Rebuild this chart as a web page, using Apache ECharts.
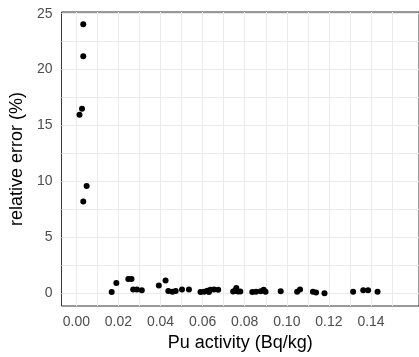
<!DOCTYPE html>
<html>
<head>
<meta charset="utf-8">
<script src="https://cdn.jsdelivr.net/npm/echarts@6/dist/echarts.min.js"></script>
<style>
  html, body { margin: 0; padding: 0; background: #fff; }
  #container { width: 419px; height: 357px; }
</style>
</head>
<body>
<div id="container"></div>
<script>
// Pu activity (Bq/kg) vs relative error (%)
var puActivity = [
    0.0033, 0.0033, 0.0027, 0.0015, 0.0049, 0.0033,
    0.0168, 0.0190, 0.0247, 0.0262, 0.0270, 0.0288, 0.0311,
    0.0392, 0.0424, 0.0437, 0.0457, 0.0472, 0.0502, 0.0535,
    0.0590, 0.0607, 0.0622, 0.0630, 0.0637, 0.0654, 0.0674,
    0.0745, 0.0752, 0.0760, 0.0768, 0.0779,
    0.0836, 0.0854, 0.0876, 0.0890, 0.0899,
    0.0971, 0.1049, 0.1063, 0.1124, 0.1139, 0.1179,
    0.1315, 0.1363, 0.1386, 0.1431
];
var relError = [
    24.05, 21.2, 16.5, 15.95, 9.58, 8.19,
    0.10, 0.90, 1.27, 1.27, 0.33, 0.33, 0.27,
    0.69, 1.13, 0.20, 0.12, 0.20, 0.33, 0.33,
    0.10, 0.12, 0.21, 0.10, 0.30, 0.33, 0.30,
    0.15, 0.20, 0.45, 0.15, 0.15,
    0.10, 0.12, 0.18, 0.30, 0.12,
    0.18, 0.12, 0.33, 0.12, 0.06, 0.00,
    0.12, 0.27, 0.27, 0.12
];
var xMajorTicks = [0, 0.02, 0.04, 0.06, 0.08, 0.10, 0.12, 0.14];
var xMinorTicks = [0.01, 0.03, 0.05, 0.07, 0.09, 0.11, 0.13, 0.15];
var yMajorTicks = [0, 5, 10, 15, 20, 25];
var yMinorTicks = [2.5, 7.5, 12.5, 17.5, 22.5];

var points = [];
for (var i = 0; i < puActivity.length; i++) {
    points.push([puActivity[i], relError[i]]);
}

// grid lines (major + minor) through the axes' own scales
var gridLines = [];
xMajorTicks.concat(xMinorTicks).forEach(function (v) { gridLines.push({xAxis: v}); });
yMajorTicks.concat(yMinorTicks).forEach(function (v) { gridLines.push({yAxis: v}); });

var fontFamily = '"Liberation Sans", Arial, sans-serif';
var gridColor = '#EBEBEB';
var xMin = -0.00706, xMax = 0.1628;
var yMin = -1.15, yMax = 25.15;

var dom = document.getElementById('container');
var myChart = echarts.init(dom, null, {renderer: 'canvas'});

var option = {
    animation: false,
    backgroundColor: '#fff',
    grid: {
        left: 61,
        top: 12,
        right: -20,
        bottom: 51,
        show: true,
        borderColor: '#333',
        borderWidth: 1,
        backgroundColor: 'transparent',
        z: 3
    },
    xAxis: {
        type: 'value',
        min: xMin,
        max: xMax,
        name: 'Pu activity (Bq/kg)',
        nameLocation: 'middle',
        nameGap: 27,
        nameTextStyle: {color: '#000', fontSize: 18, fontFamily: fontFamily},
        axisLine: {show: false},
        axisTick: {show: true, length: 4, customValues: xMajorTicks, lineStyle: {color: '#333'}},
        axisLabel: {
            customValues: xMajorTicks,
            margin: 9,
            color: '#4D4D4D',
            fontSize: 14,
            fontFamily: fontFamily,
            formatter: function (v) { return v.toFixed(2); }
        },
        splitLine: {show: false}
    },
    yAxis: {
        type: 'value',
        min: yMin,
        max: yMax,
        name: 'relative error (%)',
        nameLocation: 'middle',
        nameGap: 28,
        nameTextStyle: {color: '#000', fontSize: 18, fontFamily: fontFamily},
        axisLine: {show: false},
        axisTick: {show: true, length: 4, customValues: yMajorTicks, lineStyle: {color: '#333'}},
        axisLabel: {
            customValues: yMajorTicks,
            margin: 9,
            color: '#4D4D4D',
            fontSize: 14,
            fontFamily: fontFamily
        },
        splitLine: {show: false}
    },
    series: [
        {
            name: 'grid',
            type: 'scatter',
            z: 1,
            silent: true,
            data: [],
            markLine: {
                silent: true,
                symbol: ['none', 'none'],
                label: {show: false},
                animation: false,
                lineStyle: {color: gridColor, width: 1, type: 'solid'},
                emphasis: {disabled: true},
                data: gridLines
            }
        },
        {
            name: 'relative error',
            type: 'scatter',
            z: 5,
            symbol: 'circle',
            symbolSize: 6,
            itemStyle: {color: '#000', opacity: 1},
            data: points
        }
    ]
};
if (option && typeof option === "object") {
    myChart.setOption(option, true);
}
</script>
</body>
</html>
